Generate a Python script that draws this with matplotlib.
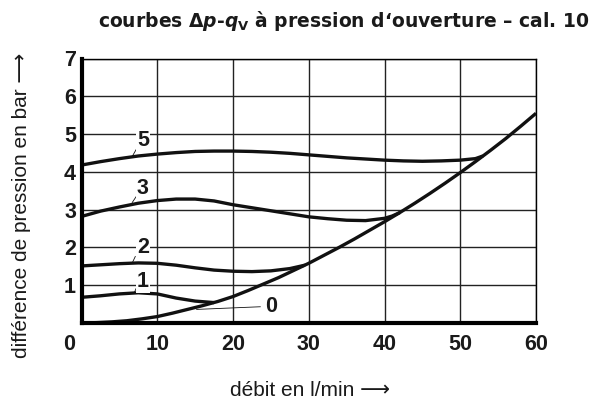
import matplotlib
matplotlib.use('Agg')
from matplotlib import pyplot as plt
from matplotlib.transforms import ScaledTranslation

plt.rcParams['mathtext.fontset'] = 'custom'
plt.rcParams['mathtext.it'] = 'DejaVu Sans:italic:bold'
plt.rcParams['mathtext.rm'] = 'DejaVu Sans:bold'
plt.rcParams['mathtext.bf'] = 'DejaVu Sans:bold'

# curve data (flow l/min, pressure difference bar)
x_base = [0, 2, 4, 6, 8, 10, 12, 14, 16, 18, 20, 22, 24, 26, 28, 30, 32, 34, 36, 38,
          40, 42, 44, 46, 48, 50, 52, 54, 56, 58, 60]
y_base = [0.0, 0.01, 0.03, 0.06, 0.11, 0.17, 0.26, 0.36, 0.46, 0.57, 0.70, 0.86, 1.03,
          1.20, 1.39, 1.58, 1.79, 2.0, 2.22, 2.45, 2.68, 2.92, 3.17, 3.43, 3.70, 3.98,
          4.27, 4.57, 4.88, 5.21, 5.55]

x_c5 = [0, 2.5, 5, 7.5, 10, 12.5, 15, 17.5, 20, 22.5, 25, 27.5, 30, 32.5, 35, 37.5,
        40, 42.5, 45, 47.5, 50, 52, 53]
y_c5 = [4.18, 4.27, 4.35, 4.42, 4.47, 4.51, 4.54, 4.55, 4.55, 4.54, 4.52, 4.49, 4.45,
        4.41, 4.37, 4.34, 4.31, 4.29, 4.28, 4.29, 4.31, 4.35, 4.42]

x_c3 = [0, 2.5, 5, 7.5, 10, 12.5, 15, 17.5, 20, 22.5, 25, 27.5, 30, 32.5, 35, 37.5,
        40, 41, 42]
y_c3 = [2.82, 2.96, 3.07, 3.17, 3.24, 3.28, 3.28, 3.23, 3.13, 3.05, 2.97, 2.89, 2.81,
        2.76, 2.72, 2.71, 2.77, 2.83, 2.92]

x_c2 = [0, 2.5, 5, 7.5, 10, 12.5, 15, 17.5, 20, 22.5, 25, 27.5, 29.5]
y_c2 = [1.51, 1.54, 1.57, 1.59, 1.58, 1.53, 1.46, 1.40, 1.37, 1.36, 1.38, 1.44, 1.53]

x_c1 = [0, 2.5, 5, 7.5, 10, 12.5, 15, 17.5]
y_c1 = [0.68, 0.72, 0.77, 0.80, 0.77, 0.66, 0.58, 0.54]

x_ticks = [0, 10, 20, 30, 40, 50, 60]
y_ticks = [1, 2, 3, 4, 5, 6, 7]

# curve labels: text, label position, leader line start/end
curve_labels = ['5', '3', '2', '1', '0']
label_pos = [(8.1, 4.83), (8.1, 3.57), (8.1, 2.0), (8.1, 1.1), (25.0, 0.43)]
leader_from = [(7.3, 4.62), (7.2, 3.34), (7.1, 1.76), (7.2, 0.91), (23.6, 0.43)]
leader_to = [(6.7, 4.41), (6.7, 3.19), (6.7, 1.59), (6.97, 0.80), (15.2, 0.36)]

tick_font = ['Liberation Sans', 'DejaVu Sans']
label_font = ['Liberation Sans', 'DejaVu Sans']

fig = plt.figure(figsize=(5.92, 4.0), dpi=100)
ax = fig.add_axes([81.5 / 592, 1 - 323 / 400, 454.5 / 592, 264.5 / 400])

ax.set_xlim(0, 60)
ax.set_ylim(0, 7)
ax.set_xticks(x_ticks)
ax.set_yticks(y_ticks)
ax.grid(True, color='#222222', linewidth=1.0)
ax.tick_params(length=0)
ax.tick_params(axis='x', pad=8)
ax.tick_params(axis='y', pad=4)
for lab in ax.get_xticklabels() + ax.get_yticklabels():
    lab.set_family(tick_font)
    lab.set_fontweight('bold')
    lab.set_fontsize(15.5)
    lab.set_color('#1a1a1a')
# the "0" sits left of the axis corner
first = ax.get_xticklabels()[0]
first.set_transform(first.get_transform() + ScaledTranslation(-12 / 100, 0, fig.dpi_scale_trans))

for side in ['top', 'right']:
    ax.spines[side].set_linewidth(1.0)
for side in ['left', 'bottom']:
    ax.spines[side].set_linewidth(3.0)
    ax.spines[side].set_zorder(5)

lw = 2.4
for xs, ys in [(x_base, y_base), (x_c5, y_c5), (x_c3, y_c3), (x_c2, y_c2), (x_c1, y_c1)]:
    ax.plot(xs, ys, color='#111111', linewidth=lw, solid_joinstyle='round',
            solid_capstyle='butt', zorder=3)

for txt, pos, p0, p1 in zip(curve_labels, label_pos, leader_from, leader_to):
    ax.plot([p0[0], p1[0]], [p0[1], p1[1]], color='#111111', linewidth=0.6, zorder=3)
    ax.text(pos[0], pos[1], txt, ha='center', va='center', family=tick_font,
            fontweight='bold', fontsize=15.5, color='#1a1a1a', zorder=4,
            bbox=dict(facecolor='white', edgecolor='none', pad=0.5))

fig.text(590 / 592, 1 - 27 / 400,
         'courbes $\\Delta\\mathit{p}$-$\\mathit{q}_\\mathrm{V}$ à pression d‘ouverture – cal. 10',
         ha='right', va='baseline', family=['DejaVu Sans'],
         fontweight='bold', fontsize=13.5, color='#1a1a1a')
fig.text(310 / 592, 1 - 396 / 400, 'débit en l/min ⟶', ha='center', va='baseline',
         family=label_font, fontsize=15, color='#1a1a1a')
fig.text(22 / 592, 1 - 205 / 400, 'différence de pression en bar ⟶', ha='center',
         va='center', rotation=90, family=label_font, fontsize=15, color='#1a1a1a')

fig.savefig('out.png', dpi=100)
